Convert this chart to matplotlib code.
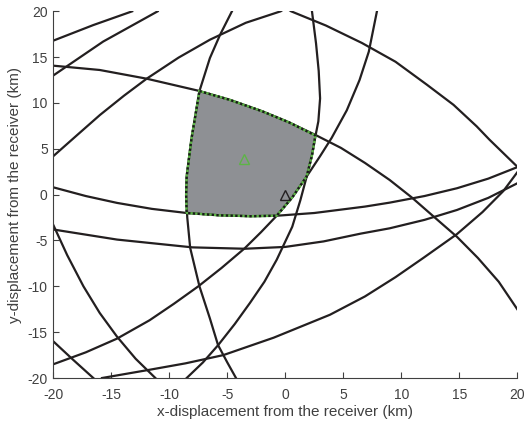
import matplotlib
matplotlib.use('Agg')
import matplotlib.pyplot as plt
from matplotlib import rcParams
rcParams['font.family'] = ['Liberation Sans', 'DejaVu Sans']
rcParams['axes.unicode_minus'] = False

# arcs (km)
arc_a_x = [-20, -16.55, -13.2]
arc_a_y = [16.8, 18.5, 20]
arc_b_x = [-20, -15.7, -11.0]
arc_b_y = [13.0, 16.7, 20]
arc_c_x = [-20, -17.9, -15.97, -13.9, -11.95, -9.2, -6.5, -3.4, -0.4, 0.05, 0.5, 3.5, 6.6, 9.5, 12.2, 14.5, 16.5, 17.6, 20]
arc_c_y = [4.2, 6.55, 8.7, 10.8, 12.65, 14.95, 16.9, 18.75, 20.0, 20.4, 20.0, 18.45, 16.55, 14.5, 12.0, 9.8, 7.45, 6.0, 3.05]
arc_d_x = [-4.6, -5.6, -6.5, -7.4, -8.1, -8.5, -8.55, -8.45, -8.2, -7.4, -6.5, -5.8, -5.0, -4.25]
arc_d_y = [20, 17.5, 14.9, 11.3, 6.0, 2.0, 0.0, -2.5, -5.8, -10.0, -13.5, -16.4, -18.3, -20]
arc_e_x = [-20, -16, -11.95, -7.5, -4.8, -2, 0.3, 2.56, 4.8, 6.87, 9.0, 10.9, 12.8, 14.8, 16.6, 18.4, 20]
arc_e_y = [14.07, 13.6, 12.65, 11.34, 10.35, 9.1, 7.9, 6.54, 5.1, 3.46, 1.6, -0.3, -2.4, -4.6, -6.9, -9.5, -12.5]
arc_g_x = [-20, -17.2, -14.5, -11.5, -8.5, -5.7, -3.0, -0.74, 2.5, 6.87, 9.0, 12.0, 14.8, 17.5, 20]
arc_g_y = [0.8, -0.15, -0.9, -1.55, -2.0, -2.25, -2.35, -2.3, -2.0, -1.3, -0.87, -0.15, 0.7, 1.75, 3.0]
arc_h_x = [-20, -14.5, -8.0, -3.5, 0, 3.3, 6.5, 9.0, 12.0, 14.8, 17.5, 20]
arc_h_y = [-3.8, -4.9, -5.75, -5.9, -5.7, -5.1, -4.25, -3.67, -2.75, -1.67, -0.35, 1.24]
arc_i_x = [2.3, 2.65, 2.88, 3.0, 2.85, 2.6, 2.3, 1.85, 1.3, 0.6, -0.74, -1.8, -3.04, -4.35, -5.78, -7.1, -8.5]
arc_i_y = [20, 16.5, 13.5, 10.5, 8.0, 6.4, 4.3, 2.0, -0.6, -3.5, -7.1, -9.5, -11.8, -14.1, -16.4, -18.3, -20]
arc_j_x = [-15.8, -11.7, -8.6, -5.34, -1.0, 3.85, 6.87, 9.5, 11.9, 14.8, 17.0, 18.8, 20]
arc_j_y = [-20, -19.1, -18.4, -17.5, -15.6, -13.1, -11.1, -9.0, -6.9, -4.3, -1.9, 0.4, 2.44]
arc_k_x = [-20, -18.8, -17.4, -16.0, -14.5, -12.9, -11.2]
arc_k_y = [-3.3, -6.6, -10.0, -12.9, -15.5, -17.9, -20]
arc_l_x = [-20, -18.3, -16.55]
arc_l_y = [-16.0, -18.0, -20]
arc_m_x = [-20, -17.2, -14.5, -11.7, -9.6, -7.5, -5.5, -3.5, -2.1, -0.74, 0.6, 1.85, 3.0, 4.0, 5.3, 6.4, 7.2, 7.9]
arc_m_y = [-18.5, -17.2, -15.7, -13.7, -11.9, -10.0, -8.0, -5.85, -4.1, -2.3, -0.3, 2.0, 4.2, 6.2, 9.2, 12.5, 15.6, 20]

arcs_x = [arc_a_x, arc_b_x, arc_c_x, arc_d_x, arc_e_x, arc_g_x, arc_h_x,
          arc_i_x, arc_j_x, arc_k_x, arc_l_x, arc_m_x]
arcs_y = [arc_a_y, arc_b_y, arc_c_y, arc_d_y, arc_e_y, arc_g_y, arc_h_y,
          arc_i_y, arc_j_y, arc_k_y, arc_l_y, arc_m_y]

# shaded region boundary
region_x = [-7.4, -4.8, -2, 0.3, 2.6, 2.3, 1.85, 0.6, -0.74, -3.0, -5.7, -8.5, -8.55, -8.5, -8.1, -7.4]
region_y = [11.3, 10.35, 9.1, 7.9, 6.45, 4.3, 2.0, -0.3, -2.3, -2.35, -2.25, -2.0, 0.0, 2.0, 6.0, 11.3]

estimate = (-3.56, 3.86)
receiver = (0, 0)

fig = plt.figure(figsize=(5.24, 4.30), dpi=100)
ax = fig.add_axes([0.1017, 0.1209, 0.8855, 0.8528])

ax.fill(region_x, region_y, color='#8e9094', lw=0, zorder=1)
for xs, ys in zip(arcs_x, arcs_y):
    ax.plot(xs, ys, color='#231f20', lw=1.6, zorder=2, solid_joinstyle='round')
ax.plot(region_x, region_y, color='#5db446', lw=1.7, zorder=3)
ax.plot(region_x, region_y, color='#1a1a1a', lw=1.7, ls=(0, (1, 1)), zorder=4)

ax.plot(*estimate, marker='^', ms=7, mfc='none', mec='#5db446', mew=1.0, zorder=5)
ax.plot(*receiver, marker='^', ms=7.5, mfc='none', mec='#231f20', mew=1.0, zorder=5)

ax.set_xlim(-20, 20)
ax.set_ylim(-20, 20)
ax.set_xticks(range(-20, 21, 5))
ax.set_yticks(range(-20, 21, 5))
for s in ['top', 'right']:
    ax.spines[s].set_visible(False)
for s in ['left', 'bottom']:
    ax.spines[s].set_color('#404040')
    ax.spines[s].set_linewidth(0.8)
ax.tick_params(direction='in', length=4, width=0.8, color='#404040',
               labelcolor='#404040', labelsize=10)
ax.tick_params(axis='x', pad=7)
ax.tick_params(axis='y', pad=4)
ax.set_xlabel('x-displacement from the receiver (km)', fontsize=11, color='#404040', labelpad=2)
ax.set_ylabel('y-displacement from the receiver (km)', fontsize=11, color='#404040', labelpad=4)

fig.savefig('out.png', dpi=100)
